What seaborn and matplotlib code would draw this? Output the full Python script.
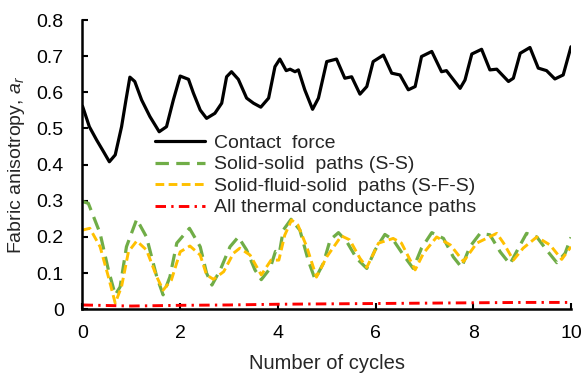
import matplotlib
matplotlib.use("Agg")
import matplotlib.pyplot as plt
import seaborn as sns
from matplotlib.ticker import FuncFormatter

# ---- data ----
cf_x = [0, 0.14, 0.29, 0.43, 0.55, 0.67, 0.80, 0.89, 0.97, 1.07, 1.21, 1.38, 1.57, 1.72, 1.86, 2.0, 2.17, 2.27,
        2.41, 2.54, 2.71, 2.85, 2.95, 3.05, 3.19, 3.36, 3.5, 3.65, 3.81, 3.94, 4.04, 4.17, 4.25, 4.35, 4.42, 4.55,
        4.71, 4.83, 5.0, 5.2, 5.37, 5.51, 5.68, 5.82, 5.95, 6.16, 6.33, 6.5, 6.67, 6.81, 6.94, 7.15, 7.35, 7.45,
        7.73, 7.83, 7.97, 8.17, 8.34, 8.48, 8.72, 8.82, 8.96, 9.16, 9.33, 9.5, 9.67, 9.84, 10.0]
cf_y = [0.562, 0.505, 0.468, 0.436, 0.408, 0.427, 0.505, 0.579, 0.642, 0.63, 0.579, 0.533, 0.491, 0.505, 0.579,
        0.645, 0.636, 0.598, 0.551, 0.528, 0.542, 0.57, 0.643, 0.657, 0.636, 0.584, 0.57, 0.559, 0.584, 0.671,
        0.692, 0.66, 0.664, 0.657, 0.662, 0.607, 0.553, 0.584, 0.685, 0.692, 0.639, 0.643, 0.595, 0.616, 0.685,
        0.703, 0.653, 0.648, 0.607, 0.616, 0.699, 0.713, 0.657, 0.66, 0.611, 0.634, 0.706, 0.719, 0.662, 0.664,
        0.63, 0.639, 0.708, 0.724, 0.667, 0.66, 0.637, 0.648, 0.726]

ss_x = [0, 0.12, 0.36, 0.53, 0.67, 0.77, 0.9, 1.11, 1.31, 1.52, 1.65, 1.79, 1.93, 2.19, 2.41, 2.54, 2.65, 2.82,
        3.02, 3.19, 3.36, 3.53, 3.66, 3.84, 3.95, 4.03, 4.11, 4.27, 4.45, 4.62, 4.76, 4.93, 5.07, 5.24, 5.41,
        5.61, 5.82, 5.99, 6.19, 6.36, 6.57, 6.77, 6.94, 7.15, 7.39, 7.59, 7.76, 7.93, 8.14, 8.34, 8.55, 8.75,
        8.96, 9.09, 9.3, 9.5, 9.71, 9.88, 10.0]
ss_y = [0.298, 0.293, 0.21, 0.109, 0.04, 0.062, 0.173, 0.249, 0.2, 0.09, 0.04, 0.09, 0.183, 0.224, 0.173, 0.1,
        0.067, 0.109, 0.173, 0.2, 0.164, 0.109, 0.082, 0.113, 0.16, 0.155, 0.219, 0.249, 0.219, 0.136, 0.083,
        0.127, 0.192, 0.212, 0.187, 0.141, 0.113, 0.164, 0.207, 0.192, 0.15, 0.113, 0.169, 0.212, 0.196, 0.145,
        0.116, 0.173, 0.21, 0.206, 0.159, 0.125, 0.178, 0.21, 0.2, 0.164, 0.129, 0.155, 0.199]

sfs_x = [0, 0.15, 0.36, 0.53, 0.67, 0.8, 0.94, 1.11, 1.31, 1.52, 1.65, 1.82, 2.0, 2.2, 2.41, 2.54, 2.68, 2.89,
         3.09, 3.22, 3.43, 3.66, 3.86, 4.02, 4.14, 4.28, 4.41, 4.59, 4.79, 5.0, 5.3, 5.47, 5.68, 5.82, 6.06,
         6.36, 6.53, 6.81, 6.98, 7.25, 7.53, 7.8, 8.07, 8.48, 8.62, 8.82, 9.02, 9.3, 9.57, 9.81, 10.0]
sfs_y = [0.219, 0.224, 0.173, 0.09, 0.017, 0.063, 0.159, 0.189, 0.164, 0.09, 0.053, 0.081, 0.159, 0.175, 0.15,
         0.095, 0.083, 0.104, 0.155, 0.169, 0.15, 0.095, 0.136, 0.136, 0.205, 0.247, 0.233, 0.173, 0.089, 0.145,
         0.203, 0.192, 0.141, 0.116, 0.183, 0.196, 0.183, 0.109, 0.155, 0.2, 0.178, 0.132, 0.183, 0.21, 0.183,
         0.136, 0.169, 0.2, 0.178, 0.138, 0.173]

th_x = [0, 1, 2, 3, 4, 5, 6, 7, 8, 9, 10]
th_y = [0.012, 0.009, 0.011, 0.012, 0.014, 0.015, 0.016, 0.017, 0.018, 0.019, 0.019]

labels = ["Contact  force", "Solid-solid  paths (S-S)",
          "Solid-fluid-solid  paths (S-F-S)", "All thermal conductance paths"]
x_ticks = [0, 2, 4, 6, 8, 10]
y_ticks = [0, 0.1, 0.2, 0.3, 0.4, 0.5, 0.6, 0.7, 0.8]

# ---- style ----
sns.set_style("ticks")
plt.rcParams["font.family"] = ["Liberation Sans", "DejaVu Sans"]
plt.rcParams["mathtext.fontset"] = "custom"
plt.rcParams["mathtext.it"] = "Liberation Sans:italic"
plt.rcParams["mathtext.rm"] = "Liberation Sans"

fig = plt.figure(figsize=(5.83, 3.74), dpi=100)
ax = fig.add_axes([0.1415, 0.173, 0.8379, 0.7735])

sns.lineplot(x=cf_x, y=cf_y, ax=ax, color="#000000", lw=2.3, label=labels[0], sort=False)
sns.lineplot(x=ss_x, y=ss_y, ax=ax, color="#70AD47", lw=2.3, label=labels[1], sort=False)
ax.lines[-1].set_dashes((4.2, 2.3))
sns.lineplot(x=sfs_x, y=sfs_y, ax=ax, color="#FFC000", lw=2.1, label=labels[2], sort=False)
ax.lines[-1].set_dashes((3.0, 1.5))
sns.lineplot(x=th_x, y=th_y, ax=ax, color="#FF0000", lw=2.1, label=labels[3], sort=False)
ax.lines[-1].set_dashes((3.6, 1.8, 0.8, 1.8))

ax.set_xlim(0, 10)
ax.set_ylim(0, 0.8)
ax.set_xticks(x_ticks)
ax.set_yticks(y_ticks)
ax.yaxis.set_major_formatter(FuncFormatter(lambda v, p: "0" if abs(v) < 1e-9 else f"{v:.1f}"))
ax.tick_params(direction="in", length=4, width=1.5, labelsize=14, colors="black")
ax.tick_params(axis="y", pad=13.5)
ax.tick_params(axis="x", pad=11)
for s in ["left", "bottom"]:
    ax.spines[s].set_linewidth(1.8)
    ax.spines[s].set_color("black")
sns.despine(ax=ax)

ax.set_xlabel("Number of cycles", fontsize=14.5, labelpad=9)
ax.set_ylabel("Fabric anisotropy, $a_r$", fontsize=14, labelpad=7)

leg = ax.legend(loc="upper left", bbox_to_anchor=(0.148, 0.605), frameon=False, fontsize=14,
                handlelength=2.6, handletextpad=0.45, labelspacing=0.2, borderpad=0, borderaxespad=0)

fig.savefig("out.png", dpi=100)
